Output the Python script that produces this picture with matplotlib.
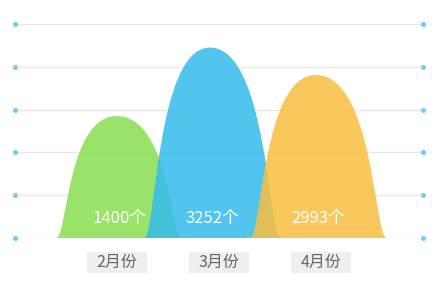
import matplotlib
matplotlib.use("Agg")
import matplotlib.pyplot as plt
from matplotlib.path import Path
from matplotlib.patches import PathPatch, Rectangle
import matplotlib.transforms as mtransforms

plt.rcParams['font.family'] = ['Noto Sans CJK SC', 'DejaVu Sans']

# ---- data ----
categories = ['2月份', '3月份', '4月份']
values = [1400, 3252, 2993]            # label values
shape_heights = [2.85, 4.45, 3.81]     # drawn heights (grid units)
unit = '个'

# ---- style / layout ----
colors = ['#89de51', '#34bbed', '#fabe3f']
alpha = 0.85
offsets = [0.02, -0.064, -0.025]
widths = [1.23, 1.34, 1.34]
peak_frac = 0.48
ctrl = 0.82

W, H = 440, 293
fig = plt.figure(figsize=(W / 100, H / 100), dpi=100)
ax = fig.add_axes([15 / W, 55 / H, 408 / W, 214 / H])
ax.set_xlim(0, 4)
ax.set_ylim(0, 5)
grid_levels = list(range(6))
ax.set_yticks(grid_levels)
ax.set_xticks([])
ax.tick_params(left=False, labelleft=False, bottom=False)
for s in ax.spines.values():
    s.set_visible(False)
ax.yaxis.grid(True, color='#e9e9e9', lw=1)
ax.set_axisbelow(True)

# end dots on gridlines
ax.scatter([0] * len(grid_levels) + [4] * len(grid_levels), grid_levels * 2,
           s=14, color='#6fd0f6', zorder=6, clip_on=False, linewidths=0)


def bell(xc, w, h):
    L = w * peak_frac
    R = w * (1 - peak_frac)
    p = xc - w / 2 + L
    verts = [
        (p - L, 0),
        (p - L + (1 - ctrl) * L, 0), (p - ctrl * L, h), (p, h),
        (p + ctrl * R, h), (p + R - (1 - ctrl) * R, 0), (p + R, 0),
        (p - L, 0),
    ]
    codes = [Path.MOVETO,
             Path.CURVE4, Path.CURVE4, Path.CURVE4,
             Path.CURVE4, Path.CURVE4, Path.CURVE4,
             Path.CLOSEPOLY]
    return Path(verts, codes)


for i, (cat, v, hgt) in enumerate(zip(categories, values, shape_heights)):
    xc = i + 1 + offsets[i]
    patch = PathPatch(bell(xc, widths[i], hgt), facecolor=colors[i],
                      edgecolor='none', alpha=alpha, zorder=2 + i)
    ax.add_patch(patch)
    ax.text(xc, 0.45, f'{v}{unit}', ha='center', va='center', color='white',
            fontsize=12, zorder=10)

# category labels with grey boxes
trans = mtransforms.blended_transform_factory(ax.transData, ax.transAxes)
box_w = 0.588
for i, cat in enumerate(categories):
    x = i + 1
    ax.add_patch(Rectangle((x - box_w / 2, -0.1636), box_w, 0.0982,
                           transform=trans, facecolor='#efefef', edgecolor='none',
                           clip_on=False, zorder=1))
    ax.text(x, -0.1145, cat, transform=trans, ha='center', va='center',
            color='#666666', fontsize=11.5, zorder=2)

fig.savefig('out.png', dpi=100)
